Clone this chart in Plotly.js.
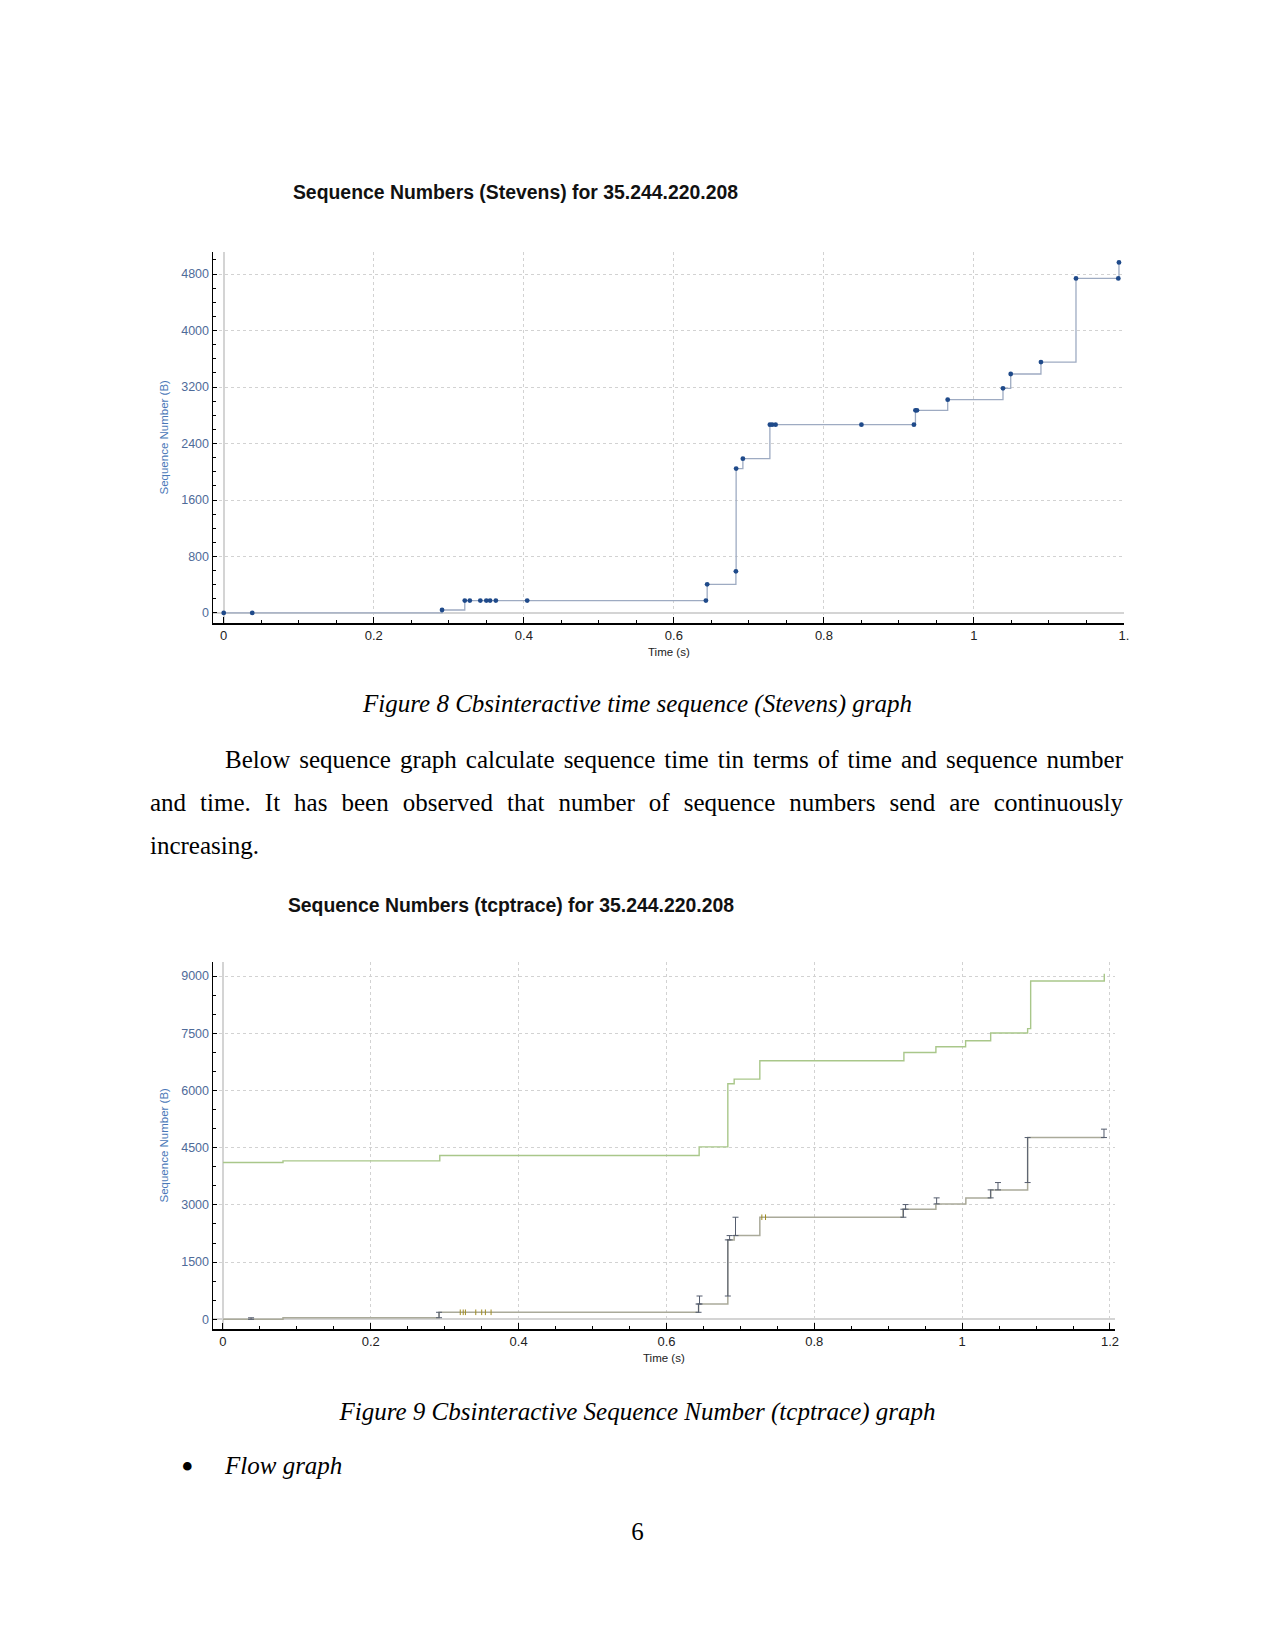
<!DOCTYPE html>
<html>
<head>
<meta charset="utf-8">
<script src="https://cdn.plot.ly/plotly-3.0.1.min.js"></script>
<style>
  html, body { margin:0; padding:0; background:#fff; }
  body { width:1275px; height:1651px; position:relative; overflow:hidden; font-family:'Liberation Serif','Times New Roman',serif; color:#000; }
  .chart { position:absolute; left:0; width:1275px; }
  .txt { position:absolute; font-size:25px; line-height:28px; white-space:nowrap; }
  .just { text-align:justify; text-align-last:justify; white-space:normal; }
  .it { font-style:italic; }
</style>
</head>
<body>
<div id="chart1" class="chart" style="top:150px;height:520px;"></div>
<div id="chart2" class="chart" style="top:820px;height:560px;"></div>

<div class="txt it" style="top:690px;left:0;width:1275px;text-align:center;">Figure 8 Cbsinteractive time sequence (Stevens) graph</div>
<div class="txt just" style="top:746px;left:225px;width:898px;">Below sequence graph calculate sequence time tin terms of time and sequence number</div>
<div class="txt just" style="top:789px;left:150px;width:973px;">and time. It has been observed that number of sequence numbers send are continuously</div>
<div class="txt" style="top:832px;left:150px;">increasing.</div>
<div class="txt it" style="top:1398px;left:0;width:1275px;text-align:center;">Figure 9 Cbsinteractive Sequence Number (tcptrace) graph</div>
<div class="txt" style="top:1449px;left:181px;font-size:36px;line-height:36px;">•</div>
<div class="txt it" style="top:1452px;left:225px;">Flow graph</div>
<div class="txt" style="top:1518px;left:0;width:1275px;text-align:center;">6</div>

<script>
// ---------- Chart 1: Stevens ----------
const stevensTime = [0.000, 0.038, 0.291, 0.3213, 0.328, 0.342, 0.350, 0.355, 0.3627, 0.4045, 0.6427, 0.6444, 0.6827, 0.6830, 0.692, 0.728, 0.731, 0.7356, 0.850, 0.920, 0.922, 0.924, 0.965, 1.0387, 1.049, 1.0893, 1.136, 1.1924, 1.1933];
const stevensSeq  = [1, 1, 42, 175, 175, 175, 175, 175, 175, 175, 175, 406, 590, 2045, 2186, 2667, 2667, 2667, 2667, 2667, 2870, 2870, 3021, 3182, 3385, 3554, 4739, 4739, 4966];
const xTickVals1 = [0, 0.2, 0.4, 0.6, 0.8, 1, 1.2];
const xTickText1 = ['0', '0.2', '0.4', '0.6', '0.8', '1', '1.'];
const yTickVals1 = [0, 800, 1600, 2400, 3200, 4000, 4800];

// ---------- Chart 2: tcptrace ----------
const winTime = [0, 0.0812, 0.2933, 0.6442, 0.683, 0.6916, 0.7263, 0.9212, 0.9645, 1.0047, 1.0386, 1.0886, 1.0927, 1.1923, 1.1923];
const winSeq  = [4109, 4154, 4293, 4521, 6174, 6297, 6777, 6996, 7145, 7302, 7504, 7620, 8869, 8869, 9061];
const ackTime = [0, 0.0812, 0.2923, 0.6434, 0.683, 0.6916, 0.7263, 0.9200, 0.9645, 1.0050, 1.0386, 1.0886, 1.1923];
const ackSeq  = [0, 42, 184, 401, 2082, 2195, 2676, 2886, 3025, 3183, 3393, 4765, 4765];
const segTime = [0.038, 0.2923, 0.6434, 0.6447, 0.683, 0.6854, 0.6934, 0.9205, 0.9235, 0.9655, 1.0386, 1.0485, 1.0886, 1.1919];
const segLow  = [0, 42, 184, 401, 611, 2082, 2195, 2676, 2886, 3025, 3183, 3393, 3585, 4765];
const segHigh = [40, 184, 401, 611, 2082, 2195, 2676, 2886, 3008, 3183, 3393, 3585, 4765, 4985];
const dupTime = [0.321, 0.325, 0.328, 0.342, 0.350, 0.355, 0.3627, 0.729, 0.734];
const dupSeq  = [184, 184, 184, 184, 184, 184, 184, 2676, 2676];
const xTickVals2 = [0, 0.2, 0.4, 0.6, 0.8, 1, 1.2];
const xTickText2 = ['0', '0.2', '0.4', '0.6', '0.8', '1', '1.2'];
const yTickVals2 = [0, 1500, 3000, 4500, 6000, 7500, 9000];

const FONT = 'Liberation Sans, Arial, sans-serif';
const TICKBLUE = '#4f6b99';
const TITLEBLUE = '#4a78b8';

function xAxis(range, tv, tt) {
  return {
    range: range, tickmode: 'array', tickvals: tv, ticktext: tt,
    ticks: 'inside', ticklen: 6, tickwidth: 1, tickcolor: '#000',
    minor: {tickmode: 'linear', tick0: 0, dtick: 0.05, ticks: 'inside', ticklen: 3, tickcolor: '#000', showgrid: false},
    showline: true, linecolor: '#000', linewidth: 1.5,
    showgrid: true, gridcolor: '#d2d2d2', griddash: 'dot', gridwidth: 1,
    zeroline: true, zerolinecolor: '#d4d4d4', zerolinewidth: 2,
    tickfont: {family: FONT, size: 13, color: '#222'}, fixedrange: true
  };
}
function yAxis(range, tv, minorStep) {
  return {
    range: range, tickmode: 'array', tickvals: tv,
    ticks: 'inside', ticklen: 4, tickwidth: 1, tickcolor: '#000',
    minor: {tickmode: 'linear', tick0: 0, dtick: minorStep, ticks: 'inside', ticklen: 3, tickcolor: '#000', showgrid: false},
    showline: true, linecolor: '#000', linewidth: 1.5,
    showgrid: true, gridcolor: '#d2d2d2', griddash: 'dot', gridwidth: 1,
    zeroline: true, zerolinecolor: '#d4d4d4', zerolinewidth: 2,
    tickfont: {family: FONT, size: 12.5, color: TICKBLUE}, fixedrange: true
  };
}
function axisTitles(xshiftY, yshiftX) {
  return [
    {text: 'Sequence Number (B)', xref: 'paper', yref: 'paper', x: 0, y: 0.5, xshift: xshiftY,
     textangle: -90, showarrow: false, xanchor: 'center', yanchor: 'middle',
     font: {family: FONT, size: 11.5, color: TITLEBLUE}},
    {text: 'Time (s)', xref: 'paper', yref: 'paper', x: 0.5, y: 0, yshift: yshiftX,
     showarrow: false, xanchor: 'center', yanchor: 'middle',
     font: {family: FONT, size: 11.5, color: '#222'}}
  ];
}

const cfg = {displayModeBar: false, staticPlot: true};

Plotly.newPlot('chart1', [
  {x: stevensTime, y: stevensSeq, type: 'scatter', mode: 'lines+markers', line: {shape: 'hv', color: '#9eabc2', width: 1.3},
   marker: {color: '#1f4a8a', size: 4.8}, hoverinfo: 'skip'}
], {
  width: 1275, height: 520,
  margin: {l: 213, r: 151, t: 102, b: 47, pad: 0},
  paper_bgcolor: '#fff', plot_bgcolor: '#fff', showlegend: false,
  title: {text: '<b>Sequence Numbers (Stevens) for 35.244.220.208</b>', xref: 'container', yref: 'container',
          x: 515.5 / 1275, xanchor: 'center', y: 1 - 42.7 / 520, yanchor: 'middle',
          font: {family: FONT, size: 19.4, color: '#111'}},
  xaxis: xAxis([-0.0143, 1.2], xTickVals1, xTickText1),
  yaxis: yAxis([-142, 5113], yTickVals1, 200),
  annotations: axisTitles(-50, -29)
}, cfg);

const segSpan = segHigh.map((h, i) => h - segLow[i]);
const segZero = segLow.map(() => 0);

Plotly.newPlot('chart2', [
  {x: winTime, y: winSeq, type: 'scatter', mode: 'lines', line: {shape: 'hv', color: '#a9c78a', width: 1.4}, hoverinfo: 'skip'},
  {x: ackTime, y: ackSeq, type: 'scatter', mode: 'lines', line: {shape: 'hv', color: '#aaaa9a', width: 1.5}, hoverinfo: 'skip'},
  {x: segTime, y: segLow, type: 'scatter', mode: 'markers', marker: {size: 1, opacity: 0}, hoverinfo: 'skip',
   error_y: {type: 'data', symmetric: false, array: segSpan, arrayminus: segZero, color: '#555d6e', thickness: 1, width: 3}},
  {x: dupTime, y: dupSeq, type: 'scatter', mode: 'markers', marker: {symbol: 'line-ns', size: 4, line: {color: '#a08c20', width: 1}}, hoverinfo: 'skip'}
], {
  width: 1275, height: 560,
  margin: {l: 213, r: 160, t: 142, b: 51, pad: 0},
  paper_bgcolor: '#fff', plot_bgcolor: '#fff', showlegend: false,
  title: {text: '<b>Sequence Numbers (tcptrace) for 35.244.220.208</b>', xref: 'container', yref: 'container',
          x: 511 / 1275, xanchor: 'center', y: 1 - 85 / 560, yanchor: 'middle',
          font: {family: FONT, size: 19.4, color: '#111'}},
  xaxis: xAxis([-0.0135, 1.2068], xTickVals2, xTickText2),
  yaxis: yAxis([-254, 9367], yTickVals2, 500),
  annotations: axisTitles(-50, -29)
}, cfg);
</script>
</body>
</html>
